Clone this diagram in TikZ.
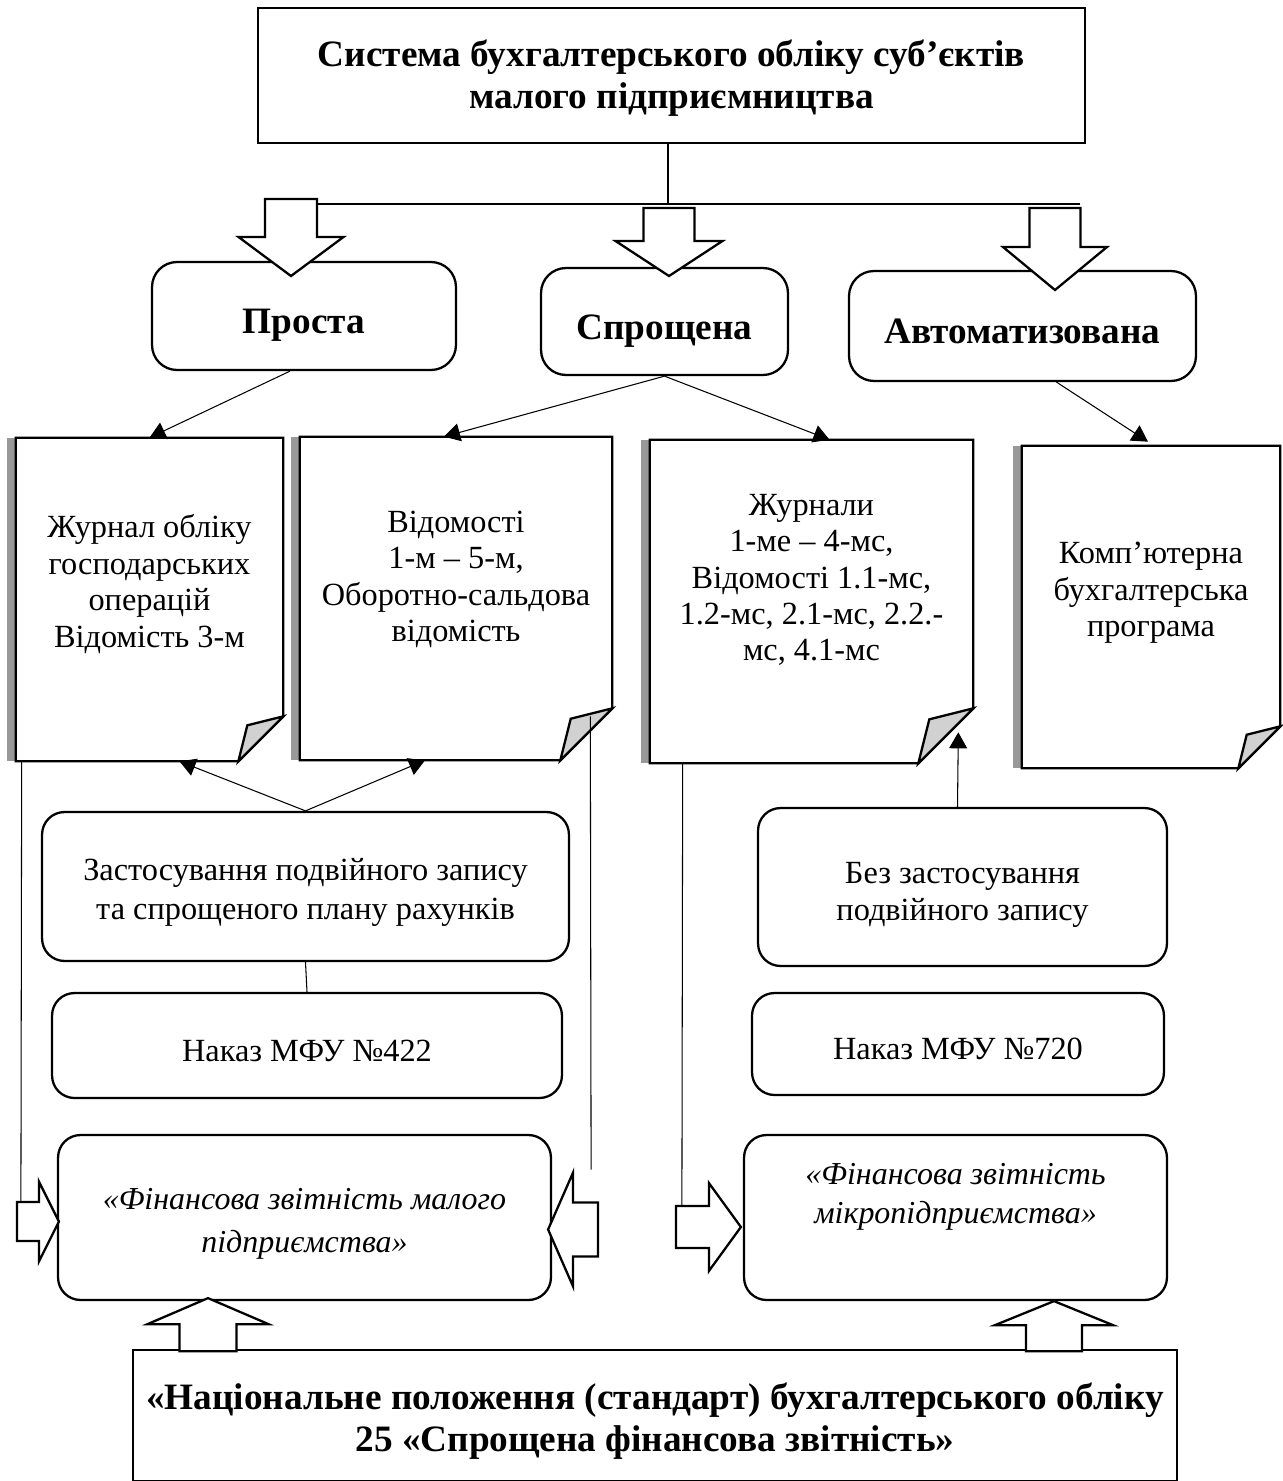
\documentclass[tikz,border=0pt]{standalone}
\usepackage{fontspec}
\setmainfont{Liberation Serif}
\usetikzlibrary{arrows.meta,calc}
\tikzset{
  blk/.style   ={draw,line width=1.3pt,align=center,inner sep=2pt,font=\fontsize{18.4}{20.7}\selectfont},
  rblk/.style  ={blk,rounded corners=0.45cm},
  hdr/.style   ={blk,font=\fontsize{21.2}{24}\selectfont\bfseries},
  one/.style   ={text height=24pt,text depth=4pt},
  nak/.style   ={rblk,text height=18pt,text depth=0pt},
  txt/.style   ={align=center,font=\fontsize{18.4}{20.7}\selectfont},
  btxt/.style  ={align=center,font=\fontsize{21.2}{24}\selectfont\bfseries},
  itx/.style   ={align=center,font=\fontsize{18.2}{22.1}\selectfont\itshape},
  doc/.style   ={inner sep=0pt},
  page/.style  ={line width=1.3pt,line join=miter},
  flow/.style  ={-{Triangle[length=3.2mm,width=3.6mm]},line width=0.6pt},
  lnk/.style   ={line width=0.6pt},
  barrow/.style={draw,fill=white,line width=1.3pt,line join=miter},
  pics/barr/.style n args={4}{code={%
    \draw[barrow] (0,0) -- (-#3,-#2) -- (-#4,-#2) -- (-#4,-#1) -- (#4,-#1) -- (#4,-#2) -- (#3,-#2) -- cycle;}},
}
\begin{document}
\begin{tikzpicture}[x=0.02cm,y=-0.02cm]
  \useasboundingbox (0,0) rectangle (1282,1481);
  % top
  \node[blk,minimum width=16.54cm,minimum height=2.7cm] (sys) at (671.5,75.5) {};
  \node[btxt] (sys-t) at (671.5,78) {Система бухгалтерського обліку суб’єктів\\малого підприємництва};
  \node[hdr,one,rounded corners=0.5cm,minimum width=6.08cm,minimum height=2.16cm] (prosta) at (304,316) {Проста};
  \node[hdr,one,rounded corners=0.5cm,minimum width=4.94cm,minimum height=2.14cm] (sproshch) at (664.5,321.5) {Спрощена};
  \node[hdr,one,rounded corners=0.5cm,minimum width=6.94cm,minimum height=2.2cm] (avto) at (1022.5,326) {Автоматизована};
  \coordinate (bus) at ($(sys.south)+(-3.5,61)$);
  \coordinate (bus-w) at (316,204);
  \coordinate (bus-e) at (1080,204);
  \draw[lnk] ($(sys.south)+(-3.5,0)$) -- (bus);
  \draw[lnk] (bus-w) -- (bus-e);
  \pic at (291,276) {barr={77}{39}{52.5}{26}};
  \pic at (669,276) {barr={68}{35}{53.5}{25.5}};
  \pic at (1055,290) {barr={82}{43}{52}{25.5}};

  % documents
  \node[doc,minimum width=5.34cm,minimum height=6.46cm] (d1) at (149.5,599.5) {};
  \node[doc,minimum width=6.24cm,minimum height=6.46cm] (d2) at (456,598.5) {};
  \node[doc,minimum width=6.46cm,minimum height=6.46cm] (d3) at (811.5,601.5) {};
  \node[doc,minimum width=5.16cm,minimum height=6.44cm] (d4) at (1151,607) {};
  \foreach \dn/\fs in {d1/45,d2/52,d3/55,d4/42}{
    \fill[black!40] ($(\dn.north west)+(-9,0)$) rectangle (\dn.south west);
    \draw[page] (\dn.north west) -- (\dn.north east) -- ($(\dn.south east)+(0,-\fs)$)
      -- ($(\dn.south east)+(-\fs,0)$) -- (\dn.south west) -- cycle;
    \draw[page,fill=black!18] ($(\dn.south east)+(0,-\fs)$) -- ($(\dn.south east)+(-0.8*\fs,-0.8*\fs)$)
      -- ($(\dn.south east)+(-\fs,0)$) -- cycle;
  }
  \node[txt] (d1-t) at (149.5,584) {Журнал обліку\\господарських\\операцій\\Відомість 3-м};
  \node[txt] (d2-t) at (456,579.5) {Відомості\\1-м – 5-м,\\Оборотно-сальдова\\відомість};
  \node[txt] (d3-t) at (811.5,580) {Журнали\\1-ме – 4-мс,\\Відомості 1.1-мс,\\1.2-мс, 2.1-мс, 2.2.-\\мс, 4.1-мс};
  \node[txt] (d4-t) at (1151,593) {Комп’ютерна\\бухгалтерська\\програма};
  \draw[flow] ($(prosta.south)+(-14,0)$) -- (d1.north);
  \draw[flow] (sproshch.south) -- ($(d2.north)+(-12,0)$);
  \draw[flow] (sproshch.south) -- ($(d3.north)+(18,0)$);
  \draw[flow] ($(avto.south)+(34,0)$) -- ($(d4.north)+(-3,-4)$);

  % middle
  \node[rblk,minimum width=10.54cm,minimum height=2.98cm] (zast) at (305.5,886.5) {};
  \node[txt,font=\fontsize{18.4}{22.1}\selectfont] (zast-t) at (305.5,892.5) {Застосування подвійного запису\\та спрощеного плану рахунків};
  \node[nak,minimum width=10.2cm,minimum height=2.1cm] (nak1) at (307,1045.5) {Наказ МФУ №422};
  \node[rblk,minimum width=8.18cm,minimum height=3.16cm] (bez) at (962.5,887) {};
  \node[txt,font=\fontsize{18.4}{21.5}\selectfont] (bez-t) at (962.5,895) {Без застосування\\подвійного запису};
  \node[nak,minimum width=8.24cm,minimum height=2.04cm] (nak2) at (958,1044) {Наказ МФУ №720};
  \draw[flow] (zast.north) -- ($(d1.south)+(30,0)$);
  \draw[flow] (zast.north) -- ($(d2.south)+(-31,0)$);
  \draw[lnk] (zast.south) -- (nak1.north);
  \draw[flow] ($(bez.north)+(-5,0)$) -- ($(d3.south east)+(-15,-31)$);

  % reports
  \node[rblk,minimum width=9.86cm,minimum height=3.3cm] (fin1) at (304.5,1217.5) {};
  \node[itx,font=\fontsize{18.2}{24.4}\selectfont\itshape] (fin1-t) at (304.5,1224) {«Фінансова звітність малого\\підприємства»};
  \node[rblk,minimum width=8.46cm,minimum height=3.3cm] (fin2) at (955.5,1217.5) {};
  \node[itx] (fin2-t) at (955.5,1197) {«Фінансова звітність\\мікропідприємства»};
  \node[blk,minimum width=20.88cm,minimum height=2.62cm] (nps) at (655,1415.5) {};
  \node[btxt] (nps-t) at (655,1421) {«Національне положення (стандарт) бухгалтерського обліку\\25 «Спрощена фінансова звітність»};

  \draw[lnk] ($(d1.south west)+(6,0)$) -- ($(fin1.west)+(-36,-15.5)$);
  \draw[lnk] ($(d2.south east)+(-22,-44)$) -- ($(fin1.east)+(39,-48)$);
  \draw[lnk] ($(d3.south west)+(33,0)$) -- ($(fin2.west)+(-61,-11.5)$);
  \pic[rotate=90] at ($(fin1.west)+(2,4)$) {barr={42}{20}{40}{19.5}};
  \pic[rotate=-90] at ($(fin1.east)+(-4,12)$) {barr={50}{25}{57}{27}};
  \pic[rotate=90] at ($(fin2.west)+(-2,9.5)$) {barr={65}{32}{44}{21}};
  \pic[rotate=180] at ($(fin1.south)+(-96.5,-3)$) {barr={53}{26}{60.5}{28.5}};
  \pic[rotate=180] at ($(fin2.south)+(98.5,0)$) {barr={50}{24}{59}{28}};
\end{tikzpicture}
\end{document}
